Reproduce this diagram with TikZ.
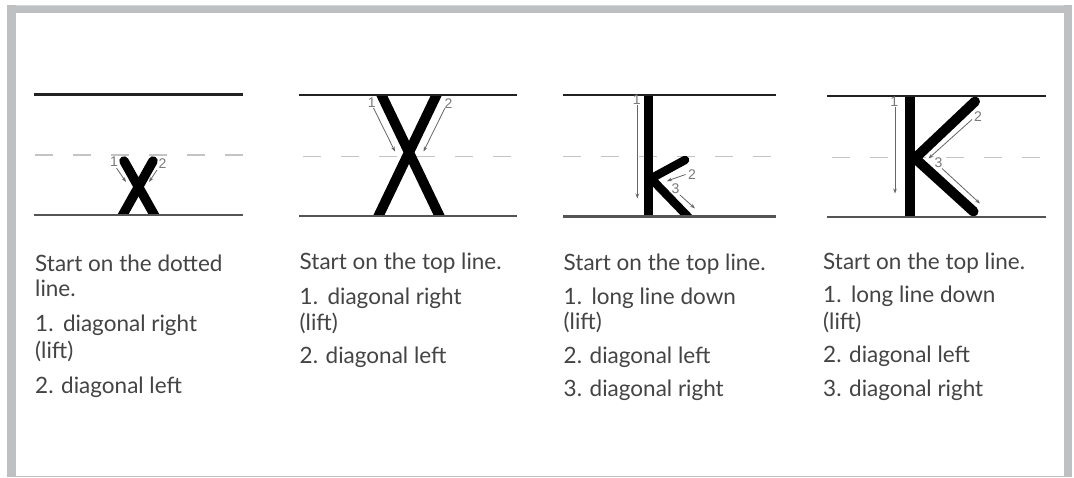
\documentclass[tikz,border=0pt]{standalone}
\usepackage{fontspec}
\setmainfont{Lato}
\newfontfamily\numfont{Liberation Sans}
\usetikzlibrary{arrows.meta}
\definecolor{framegray}{HTML}{BFC0C2}
\definecolor{framelight}{HTML}{D6D7D9}
\definecolor{txt}{HTML}{444444}
\definecolor{dashgray}{HTML}{C4C4C4}
\definecolor{toplinec}{HTML}{222222}
\definecolor{botlinec}{HTML}{555555}
\definecolor{arrowc}{HTML}{666666}
\definecolor{numc}{HTML}{7A7A7A}
\begin{document}
\begin{tikzpicture}[x=1pt,y=-1pt,
  body/.style={anchor=base west,inner sep=0pt,text=txt,font=\fontsize{22.5}{26}\selectfont},
  num/.style={inner sep=0pt,text=numc,font=\numfont\fontsize{14}{14}\selectfont},
  guide/.style={draw=arrowc,line width=0.8pt,-{Stealth[length=5pt,width=3.6pt]}},
  topline/.style={draw=toplinec,line width=2.5pt},
  botline/.style={draw=botlinec,line width=2.2pt},
  midline/.style={draw=dashgray,line width=1.5pt,dash pattern=on 18pt off 20pt},
  pen/.style={line width=#1,line cap=round,line join=round,draw=black},
]
\useasboundingbox (0,0) rectangle (1074,477);
\fill[white] (0,0) rectangle (1074,477);
% frame
\fill[framegray] (7.3,5) rectangle (1071.7,13.3);
\fill[framelight] (7.3,5) rectangle (1071.7,6);
\fill[framegray] (7.3,5) rectangle (15.7,477);
\fill[framegray] (1063.7,5) rectangle (1071.7,477);
\fill[framegray] (7.3,475.7) rectangle (1071.7,477);

% ---------- panel 1 : x ----------
\draw[midline] (35,155) -- (243,155);
\begin{scope}
  \clip (30,90) rectangle (250,214.7);
  \draw[pen=9.5pt] (124,161) -- (156,218);
  \draw[pen=9.5pt] (153,161) -- (121,218);
\end{scope}
\draw[topline] (34,94.7) -- (243,94.7);
\draw[botline] (34,214.7) -- (243,214.7);
\coordinate (p1a1) at (116.5,168); \coordinate (p1a2) at (126,182);
\coordinate (p1b1) at (157,170); \coordinate (p1b2) at (149,182);
\draw[guide] (p1a1) -- (p1a2);
\draw[guide] (p1b1) -- (p1b2);
\node[num] (n11) at (114,162) {1};
\node[num] (n12) at (162.5,164) {2};

% ---------- panel 2 : X ----------
\draw[midline] (303,156.3) -- (517,156.3);
\begin{scope}
  \clip (295,95) rectangle (520,215.7);
  \draw[pen=10pt] (379.1,90) -- (441.9,221);
  \draw[pen=10pt] (438.9,90) -- (376.1,221);
\end{scope}
\draw[topline] (299,95) -- (517,95);
\draw[botline] (299,215.7) -- (517,215.7);
\coordinate (p2a1) at (373.5,108); \coordinate (p2a2) at (395,151.5);
\coordinate (p2b1) at (445,108); \coordinate (p2b2) at (423.5,151.5);
\draw[guide] (p2a1) -- (p2a2);
\draw[guide] (p2b1) -- (p2b2);
\node[num] (n21) at (371.7,103) {1};
\node[num] (n22) at (448.5,104) {2};

% ---------- panel 3 : k ----------
\draw[midline] (563,156.7) -- (776,156.7);
\begin{scope}
  \clip (560,95) rectangle (780,216.5);
  \draw[pen=8.5pt] (648.5,88) -- (648.5,224);
  \draw[pen=8.5pt] (685,160) -- (651,178.5) -- (694,223);
\end{scope}
\draw[topline] (563,95) -- (776,95);
\draw[botline] (563,216.5) -- (776,216.5);
\coordinate (p3a1) at (637.3,105); \coordinate (p3a2) at (637.3,198.5);
\coordinate (p3b1) at (685.5,174.5); \coordinate (p3b2) at (667,181);
\coordinate (p3c1) at (680,195); \coordinate (p3c2) at (695,208.5);
\draw[guide] (p3a1) -- (p3a2);
\draw[guide] (p3b1) -- (p3b2);
\draw[guide] (p3c1) -- (p3c2);
\node[num] (n31) at (636.7,100) {1};
\node[num] (n32) at (692,175) {2};
\node[num] (n33) at (675.5,189) {3};

% ---------- panel 4 : K ----------
\draw[midline] (831.7,157.3) -- (1046,157.3);
\begin{scope}
  \clip (820,96) rectangle (1050,216.7);
  \draw[pen=10.5pt] (910,88) -- (910,224);
\end{scope}
\draw[pen=10pt] (975,101.5) -- (915,158.3) -- (973.5,211.5);
\draw[topline] (827,96) -- (1046,96);
\draw[botline] (827,216.7) -- (1046,216.7);
\coordinate (p4a1) at (895,106.5); \coordinate (p4a2) at (895,193.5);
\coordinate (p4b1) at (972,119.5); \coordinate (p4b2) at (928.5,158.5);
\coordinate (p4c1) at (942,168.5); \coordinate (p4c2) at (980,203.5);
\draw[guide] (p4a1) -- (p4a2);
\draw[guide] (p4b1) -- (p4b2);
\draw[guide] (p4c1) -- (p4c2);
\node[num] (n41) at (894.3,102) {1};
\node[num] (n42) at (978,117) {2};
\node[num] (n43) at (938.5,163) {3};

% ---------- texts ----------
\node[body] (t1a) at (35,271) {Start on the dotted};
\node[body] (t1b) at (35,296.5) {line.};
\node[body] (t1c) at (35,331.5) {1.\ \,diagonal right};
\node[body] (t1d) at (35,358) {(lift)};
\node[body] (t1e) at (35,393) {2. diagonal left};

\node[body] (t2a) at (299.5,269.3) {Start on the top line.};
\node[body] (t2b) at (299.5,304) {1.\ \,diagonal right};
\node[body] (t2c) at (299.5,330) {(lift)};
\node[body] (t2d) at (299.5,363.3) {2. diagonal left};

\node[body] (t3a) at (563.5,270.5) {Start on the top line.};
\node[body] (t3b) at (563.5,304) {1.\ \,long line down};
\node[body] (t3c) at (563.5,329.5) {(lift)};
\node[body] (t3d) at (563.5,363.3) {2. diagonal left};
\node[body] (t3e) at (563.5,396.7) {3. diagonal right};

\node[body] (t4a) at (823,269.3) {Start on the top line.};
\node[body] (t4b) at (823,302.7) {1.\ \,long line down};
\node[body] (t4c) at (823,329) {(lift)};
\node[body] (t4d) at (823,362.7) {2. diagonal left};
\node[body] (t4e) at (823,396.7) {3. diagonal right};
\end{tikzpicture}
\end{document}
